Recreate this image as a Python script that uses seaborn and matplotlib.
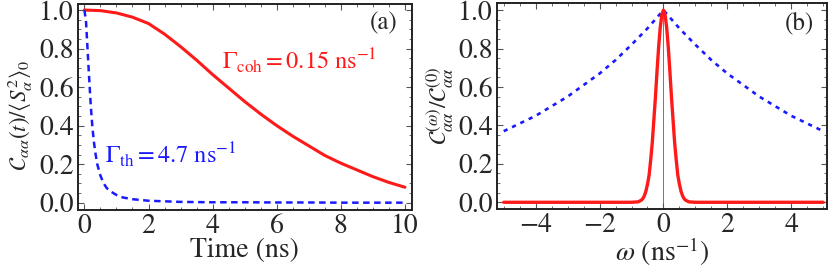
import numpy as np
import pandas as pd
import matplotlib
matplotlib.use('Agg')
import matplotlib.pyplot as plt
import seaborn as sns
from matplotlib.ticker import MultipleLocator

### Values

# panel (a): time domain
t_coh = [0, 0.5, 1, 1.5, 2, 2.5, 3, 3.5, 4, 4.5, 5, 5.5, 6, 6.5, 7, 7.5, 8, 8.5, 9, 9.5, 10]
c_coh = [1.0, 0.997, 0.985, 0.963, 0.93, 0.875, 0.81, 0.74, 0.665, 0.595, 0.525, 0.46, 0.40, 0.345, 0.295, 0.245, 0.205, 0.17, 0.135, 0.105, 0.08]

t_th = [0, 0.05, 0.1, 0.15, 0.2, 0.25, 0.3, 0.35, 0.4, 0.5, 0.6, 0.7, 0.8, 1.0, 1.2, 1.5, 2, 3, 4, 5, 6, 7, 8, 9, 10]
c_th = [1.0, 0.94, 0.79, 0.64, 0.50, 0.39, 0.31, 0.25, 0.20, 0.14, 0.10, 0.075, 0.06, 0.04, 0.027, 0.018, 0.01, 0.004, 0.002, 0.002, 0.001, 0.001, 0.0, 0.0, 0.0]

# panel (b): frequency domain
w_coh = [-5, -4, -3, -2, -1, -0.8, -0.7, -0.65, -0.6, -0.55, -0.5, -0.45, -0.4, -0.35, -0.3, -0.25, -0.2, -0.15, -0.1, -0.05,
         0, 0.05, 0.1, 0.15, 0.2, 0.25, 0.3, 0.35, 0.4, 0.45, 0.5, 0.55, 0.6, 0.65, 0.7, 0.8, 1, 2, 3, 4, 5]
s_coh = [0, 0, 0, 0, 0, 0.002, 0.01, 0.018, 0.033, 0.057, 0.094, 0.14, 0.22, 0.31, 0.43, 0.55, 0.685, 0.81, 0.91, 0.976,
         1.0, 0.976, 0.91, 0.81, 0.685, 0.55, 0.43, 0.31, 0.22, 0.14, 0.094, 0.057, 0.033, 0.018, 0.01, 0.002, 0, 0, 0, 0, 0]

w_th = [-5, -4.5, -4, -3.5, -3, -2.5, -2, -1.5, -1, -0.5, 0, 0.5, 1, 1.5, 2, 2.5, 3, 3.5, 4, 4.5, 5]
s_th = [0.37, 0.41, 0.45, 0.50, 0.55, 0.61, 0.67, 0.74, 0.82, 0.905, 1.0, 0.905, 0.82, 0.74, 0.67, 0.61, 0.55, 0.50, 0.45, 0.41, 0.37]

### Style

sns.set_style('ticks')
plt.rcParams['font.family'] = ['STIXGeneral', 'DejaVu Serif']
plt.rcParams['mathtext.fontset'] = 'stix'
plt.rcParams['axes.edgecolor'] = '#222222'
plt.rcParams['axes.linewidth'] = 1.4

red = '#ff1a1a'
blue = '#1a1aff'

fig = plt.figure(figsize = (8.3, 2.72), dpi = 100)
ax1 = fig.add_axes([0.0936, 0.228, 0.4024, 0.757])
ax2 = fig.add_axes([0.5988, 0.2316, 0.398, 0.758])

df_a1 = pd.DataFrame({'t': t_coh, 'c': c_coh})
df_a2 = pd.DataFrame({'t': t_th, 'c': c_th})
sns.lineplot(data = df_a1, x = 't', y = 'c', ax = ax1, color = red, lw = 2.2)
sns.lineplot(data = df_a2, x = 't', y = 'c', ax = ax1, color = blue, lw = 1.8,
             linestyle = (0, (2.6, 1.8)))

ax2.axvline(0, color = '#777777', lw = 0.7, zorder = 0)
df_b1 = pd.DataFrame({'w': w_th, 's': s_th})
df_b2 = pd.DataFrame({'w': w_coh, 's': s_coh})
sns.lineplot(data = df_b1, x = 'w', y = 's', ax = ax2, color = blue, lw = 1.9, linestyle = (0, (1.6, 1.9)))
sns.lineplot(data = df_b2, x = 'w', y = 's', ax = ax2, color = red, lw = 2.4)

### Axes

ax1.set_xlim(-0.21, 10.21)
ax1.set_ylim(-0.038, 1.031)
ax2.set_xlim(-5.21, 5.13)
ax2.set_ylim(-0.035, 1.038)

for ax in (ax1, ax2):
    ax.yaxis.set_major_locator(MultipleLocator(0.2))
    ax.yaxis.set_minor_locator(MultipleLocator(0.05))
    ax.xaxis.set_minor_locator(MultipleLocator(0.5))
    ax.yaxis.set_major_formatter(matplotlib.ticker.FormatStrFormatter('%.1f'))
    ax.tick_params(which = 'both', direction = 'in', top = True, right = True, labelsize = 20,
                   color = '#555555', pad = 3)
    ax.tick_params(which = 'major', length = 4, width = 0.8)
    ax.tick_params(which = 'minor', length = 2, width = 0.6)
    for sp in ax.spines.values():
        sp.set_visible(True)
ax1.xaxis.set_major_locator(MultipleLocator(2))
ax2.xaxis.set_major_locator(MultipleLocator(2))
ax2.xaxis.set_major_formatter(matplotlib.ticker.FuncFormatter(lambda v, p: '%d' % v if v >= 0 else '\u2212%d' % -v))

ax1.set_xlabel('Time (ns)', fontsize = 20)
ax1.set_ylabel(r'$\mathcal{C}_{\alpha\alpha}(t)/\langle S_\alpha^2\rangle_0$', fontsize = 16.5)
ax2.set_xlabel(r'$\omega$ (ns$^{-1}$)', fontsize = 20)
ax2.set_ylabel(r'$\mathcal{C}_{\alpha\alpha}^{(\omega)}/\mathcal{C}_{\alpha\alpha}^{(0)}$', fontsize = 17)
ax1.yaxis.set_label_coords(-0.128, 0.46)
ax2.yaxis.set_label_coords(-0.125, 0.5)
ax1.xaxis.set_label_coords(0.5, -0.135)
ax2.xaxis.set_label_coords(0.5, -0.13)

ax1.text(4.29, 0.74, r'$\Gamma_{\rm coh} = 0.15$ ns$^{-1}$', color = red, fontsize = 17.5, va = 'center', ha = 'left')
ax1.text(0.65, 0.25, r'$\Gamma_{\rm th} = 4.7$ ns$^{-1}$', color = blue, fontsize = 17.5, va = 'center', ha = 'left')
ax1.text(9.35, 0.93, '(a)', fontsize = 18, ha = 'center', va = 'center')
ax2.text(4.26, 0.93, '(b)', fontsize = 18, ha = 'center', va = 'center')

plt.savefig('out.png', dpi = 100)
